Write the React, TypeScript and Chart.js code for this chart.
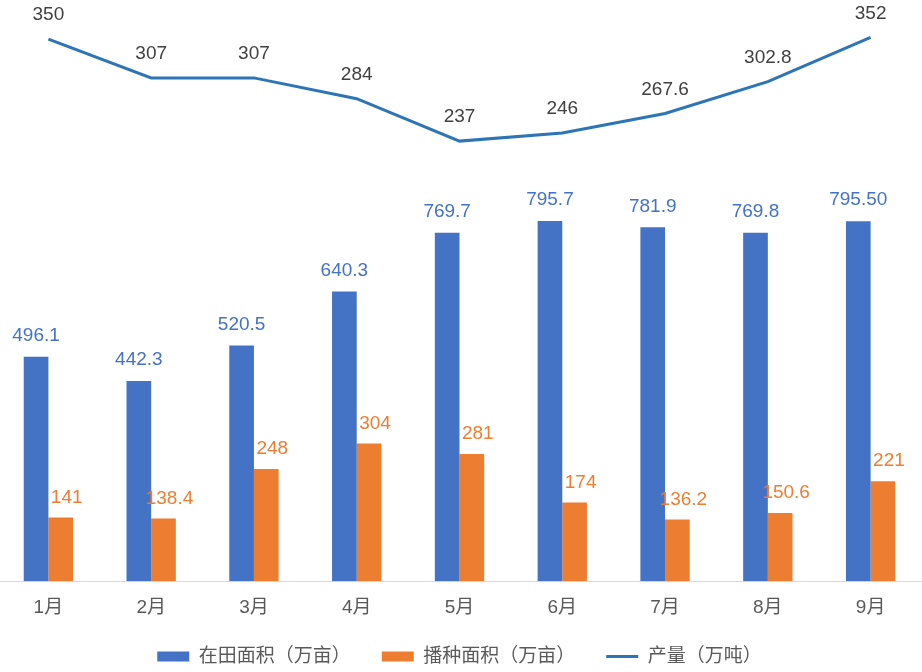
import React, { useRef, useEffect } from 'react';
import { Chart, registerables } from 'chart.js';

Chart.register(...registerables);

// months on the x axis
const months = ['1月', '2月', '3月', '4月', '5月', '6月', '7月', '8月', '9月'];

// values kept as typed in the sheet so the labels print the same way
const fieldArea = ['496.1', '442.3', '520.5', '640.3', '769.7', '795.7', '781.9', '769.8', '795.50'];
const sownArea = ['141', '138.4', '248', '304', '281', '174', '136.2', '150.6', '221'];
const output = ['350', '307', '307', '284', '237', '246', '267.6', '302.8', '352'];

const seriesNames = ['在田面积（万亩）', '播种面积（万亩）', '产量（万吨）'];

const FONT = '"Liberation Sans", "Noto Sans CJK SC", sans-serif';

// draws the value over every bar / point
const valueLabels = {
  id: 'valueLabels',
  afterDatasetsDraw(chart: any) {
    const ctx = chart.ctx;
    ctx.save();
    ctx.font = `19px ${FONT}`;
    ctx.textAlign = 'center';
    ctx.textBaseline = 'middle';
    chart.data.datasets.forEach((ds: any, di: number) => {
      const meta = chart.getDatasetMeta(di);
      ctx.fillStyle = ds.labelColor;
      meta.data.forEach((el: any, i: number) => {
        ctx.fillText(String(ds.data[i]), el.x + (ds.labelDx || 0), el.y - ds.labelDy);
      });
    });
    ctx.restore();
  },
};

const ComboChart: React.FC = () => {
  const canvasRef = useRef<HTMLCanvasElement>(null);
  const chartRef = useRef<Chart | null>(null);

  useEffect(() => {
    if (!canvasRef.current) return;
    if (chartRef.current) chartRef.current.destroy();

    chartRef.current = new Chart(canvasRef.current, {
      type: 'bar',
      data: {
        labels: months,
        datasets: [
          {
            label: seriesNames[0],
            data: fieldArea as any,
            backgroundColor: '#4472C4',
            borderWidth: 0,
            categoryPercentage: 0.48,
            barPercentage: 1,
            labelColor: '#4472C4',
            labelDy: 21,
          } as any,
          {
            label: seriesNames[1],
            data: sownArea as any,
            backgroundColor: '#ED7D31',
            borderWidth: 0,
            categoryPercentage: 0.48,
            barPercentage: 1,
            labelColor: '#ED7D31',
            labelDy: 20,
            labelDx: 6,
          } as any,
          {
            type: 'line',
            label: seriesNames[2],
            data: output as any,
            yAxisID: 'y1',
            borderColor: '#2E75B6',
            backgroundColor: '#2E75B6',
            borderWidth: 3,
            pointRadius: 0,
            tension: 0,
            labelColor: '#404040',
            labelDy: 24,
          } as any,
        ],
      },
      options: {
        animation: false,
        responsive: true,
        maintainAspectRatio: false,
        layout: { padding: { top: 10, left: 0, right: 0, bottom: 0 } },
        font: { family: FONT },
        scales: {
          x: {
            grid: { display: false, drawTicks: false },
            border: { display: true, color: '#D9D9D9', width: 1 },
            ticks: { color: '#595959', font: { size: 19, family: FONT }, padding: 15 },
            // pull the legend closer to the month labels
            afterFit: (scale: any) => {
              scale.height -= 18;
            },
          },
          y: { display: false, min: 0, max: 1262 },
          y1: { display: false, min: -250.4, max: 382.2 },
        },
        plugins: {
          tooltip: { enabled: false },
          legend: {
            position: 'bottom',
            labels: {
              usePointStyle: true,
              pointStyleWidth: 32,
              boxHeight: 10,
              padding: 31,
              color: '#595959',
              font: { size: 19, family: FONT },
              generateLabels: (chart: any) =>
                Chart.defaults.plugins.legend.labels.generateLabels(chart).map((item: any, i: number) => ({
                  ...item,
                  pointStyle: i === 2 ? 'line' : 'rect',
                  lineWidth: i === 2 ? 3 : 0,
                  strokeStyle: i === 2 ? '#2E75B6' : item.strokeStyle,
                })),
            },
          },
        },
      } as any,
      plugins: [valueLabels],
    });

    return () => {
      if (chartRef.current) {
        chartRef.current.destroy();
        chartRef.current = null;
      }
    };
  }, []);

  return (
    <div style={{ position: 'fixed', left: -3, top: 0, width: 925, height: 676, background: '#fff' }}>
      <canvas ref={canvasRef} />
    </div>
  );
};

export default function App() {
  return <ComboChart />;
}
